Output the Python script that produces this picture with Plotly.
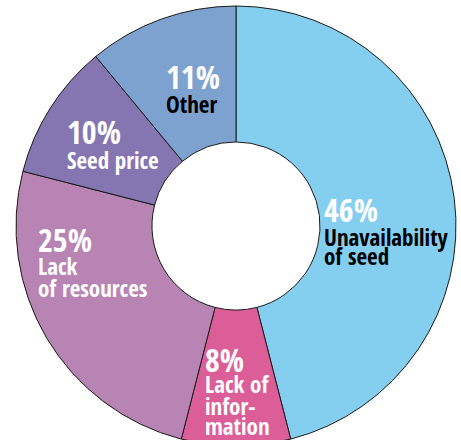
import plotly.graph_objects as go

categories = ["Unavailability of seed", "Lack of information", "Lack of resources", "Seed price", "Other"]
values = [46, 8, 25, 10, 11]
colors = ["#84CFEF", "#DC5E98", "#B884B4", "#8576B2", "#7DA2D0"]

W, H = 461, 446
FONT = "Open Sans Condensed, Roboto Condensed, sans-serif"

fig = go.Figure(go.Pie(
    labels=categories,
    values=values,
    sort=False,
    direction="clockwise",
    rotation=0,
    hole=0.382,
    marker=dict(colors=colors, line=dict(color="#1a1a1a", width=1)),
    textinfo="none",
    hoverinfo="label+percent",
    showlegend=False,
    domain=dict(x=[16 / W, 456 / W], y=[0, 440 / H]),
))

# (text, x_left_px, y_center_px, size, color)
labels = [
    ("11%", 165, 76.5, 32, "white"),
    ("Other", 165, 104, 23, "black"),
    ("10%", 66, 132, 32, "white"),
    ("Seed price", 66, 160, 23, "white"),
    ("46%", 323, 209, 32, "white"),
    ("Unavailability", 323, 236.5, 23, "black"),
    ("of seed", 323, 255.5, 23, "black"),
    ("25%", 37, 239, 32, "white"),
    ("Lack", 37, 266, 23, "white"),
    ("of resources", 37, 288, 23, "white"),
    ("8%", 204, 359, 32, "white"),
    ("Lack of", 204, 383.5, 23, "white"),
    ("infor-", 204, 405.5, 23, "white"),
    ("mation", 204, 426, 23, "white"),
]

for txt, xp, yp, sz, col in labels:
    fig.add_annotation(
        text="<b>%s</b>" % txt,
        x=xp / W, y=1 - yp / H, xref="paper", yref="paper",
        xanchor="left", yanchor="middle", showarrow=False,
        borderpad=0,
        font=dict(family=FONT, size=sz, color=col),
    )

fig.update_layout(
    width=W, height=H,
    margin=dict(l=0, r=0, t=0, b=0),
    paper_bgcolor="white",
    plot_bgcolor="white",
)

fig.write_html(
    "out.html",
    config={"displayModeBar": False},
    post_script="document.body.style.margin='0px';document.body.style.overflow='hidden';",
)
